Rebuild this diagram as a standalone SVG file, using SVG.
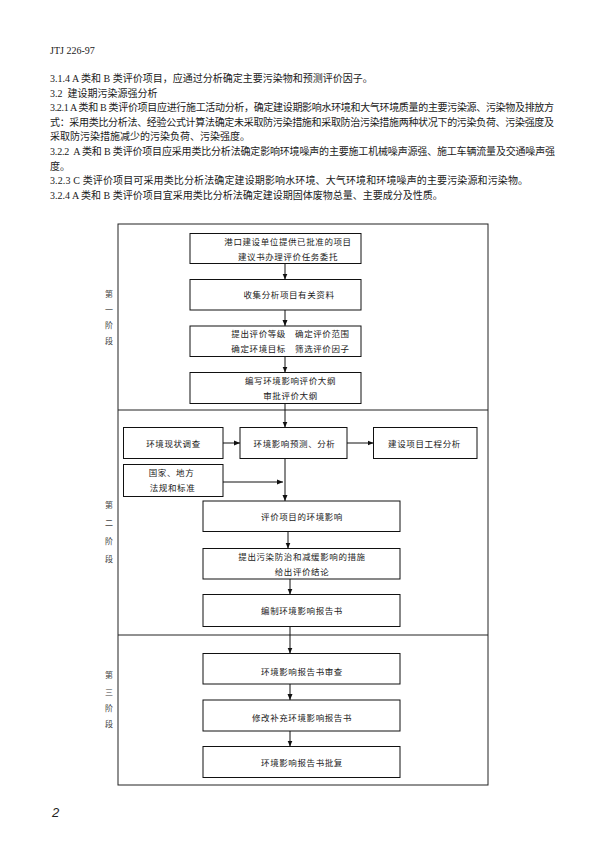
<svg xmlns="http://www.w3.org/2000/svg" width="595" height="842" viewBox="0 0 595 842">
<style>
.t{font-family:"Liberation Serif","Noto Sans CJK SC",serif;font-size:10px;fill:#1a1a1a;white-space:pre}
.b{font-family:"Liberation Serif","Noto Sans CJK SC",serif;font-size:8.5px;fill:#1a1a1a;letter-spacing:0.6px;text-anchor:middle;dominant-baseline:central}
.p{font-family:"Liberation Serif","Noto Sans CJK SC",serif;font-size:8px;fill:#444;text-anchor:middle;dominant-baseline:central}
.box{fill:#fff;stroke:#111;stroke-width:1}
.frame{fill:none;stroke:#222;stroke-width:1}
.c{stroke:#111;stroke-width:1;fill:none;marker-end:url(#ah)}
</style>
<defs>
<marker id="ah" viewBox="0 0 6 6" refX="6" refY="3" markerWidth="6" markerHeight="6" markerUnits="userSpaceOnUse" orient="auto">
<path d="M0,0.5 L6,3 L0,5.5 Z" fill="#111"/>
</marker>
</defs>
<rect width="595" height="842" fill="#fff"/>
<g id="header">
<text class="t" x="50" y="53.5">JTJ 226-97</text>
<text class="t" x="50" y="82">3.1.4 A 类和 B 类评价项目，应通过分析确定主要污染物和预测评价因子。</text>
<text class="t" x="50" y="96.5">3.2  建设期污染源强分析</text>
<text class="t" x="50" y="111" textLength="504" lengthAdjust="spacing">3.2.1 A 类和 B 类评价项目应进行施工活动分析，确定建设期影响水环境和大气环境质量的主要污染源、污染物及排放方</text>
<text class="t" x="50" y="125.7" textLength="504" lengthAdjust="spacing">式：采用类比分析法、经验公式计算法确定未采取防污染措施和采取防治污染措施两种状况下的污染负荷、污染强度及</text>
<text class="t" x="50" y="140.3">采取防污染措施减少的污染负荷、污染强度。</text>
<text class="t" x="50" y="155" textLength="505" lengthAdjust="spacing">3.2.2  A 类和 B 类评价项目应采用类比分析法确定影响环境噪声的主要施工机械噪声源强、施工车辆流量及交通噪声强</text>
<text class="t" x="50" y="169.5">度。</text>
<text class="t" x="50" y="184" textLength="478" lengthAdjust="spacing">3.2.3 C 类评价项目可采用类比分析法确定建设期影响水环境、大气环境和环境噪声的主要污染源和污染物。</text>
<text class="t" x="50" y="198.7">3.2.4 A 类和 B 类评价项目宜采用类比分析法确定建设期固体废物总量、主要成分及性质。</text>
</g>
<g id="frame">
<rect class="frame" x="118" y="224" width="370" height="561"/>
<line class="frame" x1="118" y1="410" x2="488" y2="410"/>
<line class="frame" x1="118" y1="635" x2="488" y2="635"/>
</g>
<g id="phase1-label">
<text class="p" x="109" y="294">第</text>
<text class="p" x="109" y="310">一</text>
<text class="p" x="109" y="325.5">阶</text>
<text class="p" x="109" y="341">段</text>
</g>
<g id="phase2-label">
<text class="p" x="109" y="505">第</text>
<text class="p" x="109" y="523">二</text>
<text class="p" x="109" y="541">阶</text>
<text class="p" x="109" y="559">段</text>
</g>
<g id="phase3-label">
<text class="p" x="109" y="675">第</text>
<text class="p" x="109" y="692">三</text>
<text class="p" x="109" y="708">阶</text>
<text class="p" x="109" y="724">段</text>
</g>
<g id="connectors">
<line class="c" x1="285" y1="263.5" x2="285" y2="279.5"/>
<line class="c" x1="285" y1="310" x2="285" y2="326"/>
<line class="c" x1="285" y1="356.5" x2="285" y2="372.5"/>
<line class="c" x1="285" y1="403.5" x2="285" y2="427.5"/>
<line class="c" x1="223" y1="443" x2="240" y2="443"/>
<line class="c" x1="347" y1="443" x2="373.5" y2="443"/>
<line class="c" x1="285" y1="458.5" x2="285" y2="501"/>
<line class="c" x1="223" y1="482" x2="283" y2="482"/>
<line class="c" x1="288" y1="531.5" x2="288" y2="548.5"/>
<line class="c" x1="290" y1="579" x2="290" y2="594.5"/>
<line class="c" x1="290" y1="626.5" x2="290" y2="653.5"/>
<line class="c" x1="290" y1="684" x2="290" y2="700"/>
<line class="c" x1="290" y1="731" x2="290" y2="746.5"/>
</g>
<g id="n1">
<rect class="box" x="190" y="233.5" width="171" height="30"/>
<text class="b" x="288" y="241.7">港口建设单位提供已批准的项目</text>
<text class="b" x="288" y="256.7">建议书办理评价任务委托</text>
</g>
<g id="n2">
<rect class="box" x="190" y="279.5" width="171" height="30.5"/>
<text class="b" x="289" y="295">收集分析项目有关资料</text>
</g>
<g id="n3">
<rect class="box" x="190" y="326" width="171" height="30.5"/>
<text class="b" x="290.5" y="334">提出评价等级　确定评价范围</text>
<text class="b" x="290.5" y="349.3">确定环境目标　筛选评价因子</text>
</g>
<g id="n4">
<rect class="box" x="190" y="372.5" width="171" height="31"/>
<text class="b" x="290.5" y="380.7">编写环境影响评价大纲</text>
<text class="b" x="290.5" y="395.7">审批评价大纲</text>
</g>
<g id="n5">
<rect class="box" x="123.5" y="427.5" width="99.5" height="31"/>
<text class="b" x="173.5" y="444">环境现状调查</text>
</g>
<g id="n6">
<rect class="box" x="240" y="427.5" width="107" height="31"/>
<text class="b" x="294.5" y="444">环境影响预测、分析</text>
</g>
<g id="n7">
<rect class="box" x="373.5" y="427.5" width="103.5" height="31"/>
<text class="b" x="424.5" y="444">建设项目工程分析</text>
</g>
<g id="n8">
<rect class="box" x="123.5" y="464.5" width="99.5" height="32"/>
<text class="b" x="171.5" y="473.3">国家、地方</text>
<text class="b" x="172.5" y="488.3">法规和标准</text>
</g>
<g id="n9">
<rect class="box" x="203" y="501" width="197" height="30.5"/>
<text class="b" x="302" y="516.7">评价项目的环境影响</text>
</g>
<g id="n10">
<rect class="box" x="203" y="548.5" width="197" height="30.5"/>
<text class="b" x="302" y="556.7">提出污染防治和减缓影响的措施</text>
<text class="b" x="302" y="571.7">给出评价结论</text>
</g>
<g id="n11">
<rect class="box" x="203" y="594.5" width="197" height="32"/>
<text class="b" x="302" y="611">编制环境影响报告书</text>
</g>
<g id="n12">
<rect class="box" x="203" y="653.5" width="197" height="30.5"/>
<text class="b" x="302" y="671.5">环境影响报告书审查</text>
</g>
<g id="n13">
<rect class="box" x="203" y="700" width="197" height="31"/>
<text class="b" x="302" y="718">修改补充环境影响报告书</text>
</g>
<g id="n14">
<rect class="box" x="203" y="746.5" width="197" height="31"/>
<text class="b" x="302" y="762.5">环境影响报告书批复</text>
</g>
<text x="52" y="817" style="font-family:'Liberation Sans',sans-serif;font-size:13px;font-style:italic;fill:#222">2</text>
</svg>
